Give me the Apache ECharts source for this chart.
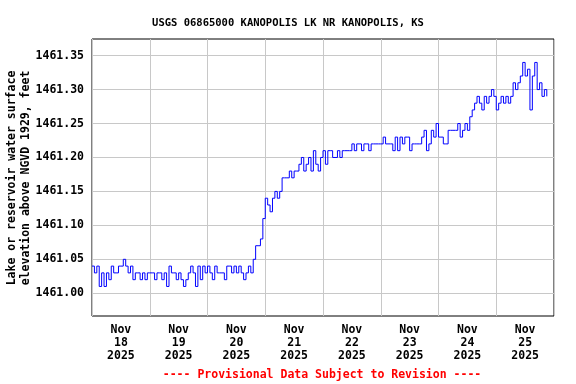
<!DOCTYPE html>
<html>
<head>
<meta charset="utf-8">
<script src="https://cdn.jsdelivr.net/npm/echarts@6/dist/echarts.min.js"></script>
<style>
html,body{margin:0;padding:0;background:#fff;}
#chart{width:576px;height:384px;}
</style>
</head>
<body>
<div id="chart"></div>
<script>
// Day categories (labels centred under each day)
const dayLabels = ['Nov\n18\n2025','Nov\n19\n2025','Nov\n20\n2025','Nov\n21\n2025','Nov\n22\n2025','Nov\n23\n2025','Nov\n24\n2025','Nov\n25\n2025'];
// Y tick values
const yTicks = [1461.00, 1461.05, 1461.10, 1461.15, 1461.20, 1461.25, 1461.30, 1461.35];
// Start of record (UTC) and hourly readings for each day
const startTime = Date.UTC(2025, 10, 18);
const stepMs = 3600000;
const elevNov18 = [1461.04,1461.03,1461.04,1461.01,1461.03,1461.01,1461.03,1461.02,1461.04,1461.03,1461.03,1461.04,1461.04,1461.05,1461.04,1461.03,1461.04,1461.02,1461.03,1461.03,1461.02,1461.03,1461.02,1461.03];
const elevNov19 = [1461.03,1461.03,1461.02,1461.03,1461.03,1461.02,1461.03,1461.01,1461.04,1461.03,1461.03,1461.02,1461.03,1461.02,1461.01,1461.02,1461.03,1461.04,1461.03,1461.01,1461.04,1461.02,1461.04,1461.03];
const elevNov20 = [1461.04,1461.03,1461.02,1461.04,1461.03,1461.03,1461.03,1461.02,1461.04,1461.04,1461.03,1461.04,1461.03,1461.04,1461.03,1461.02,1461.03,1461.04,1461.03,1461.05,1461.07,1461.07,1461.08,1461.11];
const elevNov21 = [1461.14,1461.13,1461.12,1461.14,1461.15,1461.14,1461.15,1461.17,1461.17,1461.17,1461.18,1461.17,1461.18,1461.18,1461.19,1461.20,1461.18,1461.19,1461.20,1461.18,1461.21,1461.19,1461.18,1461.20];
const elevNov22 = [1461.21,1461.19,1461.21,1461.21,1461.20,1461.20,1461.21,1461.20,1461.21,1461.21,1461.21,1461.21,1461.22,1461.21,1461.22,1461.22,1461.21,1461.22,1461.22,1461.21,1461.22,1461.22,1461.22,1461.22];
const elevNov23 = [1461.22,1461.23,1461.22,1461.22,1461.22,1461.21,1461.23,1461.21,1461.23,1461.22,1461.23,1461.23,1461.21,1461.22,1461.22,1461.22,1461.22,1461.23,1461.24,1461.21,1461.22,1461.24,1461.23,1461.25];
const elevNov24 = [1461.23,1461.23,1461.22,1461.22,1461.24,1461.24,1461.24,1461.24,1461.25,1461.23,1461.24,1461.25,1461.24,1461.26,1461.27,1461.28,1461.29,1461.28,1461.27,1461.29,1461.28,1461.29,1461.30,1461.29];
const elevNov25 = [1461.27,1461.28,1461.29,1461.28,1461.29,1461.28,1461.29,1461.31,1461.30,1461.31,1461.32,1461.34,1461.32,1461.33,1461.27,1461.32,1461.34,1461.30,1461.31,1461.29,1461.30,1461.29];

const elev = [].concat(elevNov18, elevNov19, elevNov20, elevNov21, elevNov22, elevNov23, elevNov24, elevNov25);
const seriesData = elev.map((v, i) => [startTime + i * stepMs, v]);

const FONT = 'DejaVu Sans Mono';
const chart = echarts.init(document.getElementById('chart'), null, {renderer: 'canvas'});
chart.setOption({
  animation: false,
  backgroundColor: '#ffffff',
  title: {
    text: 'USGS 06865000 KANOPOLIS LK NR KANOPOLIS, KS',
    left: 'center',
    top: 13,
    textStyle: {fontFamily: FONT, fontWeight: 'bold', fontSize: 10.5, color: '#000'}
  },
  grid: {left: 92, top: 39, width: 462, height: 277, show: true, borderColor: '#000', borderWidth: 1, backgroundColor: 'transparent'},
  xAxis: [{
    type: 'value',
    min: startTime,
    max: startTime + 8 * 86400000,
    interval: 86400000,
    axisLine: {show: false},
    axisTick: {show: false},
    axisLabel: {show: false},
    splitLine: {show: true, lineStyle: {color: '#c8c8c8', width: 1}}
  }, {
    type: 'category',
    data: dayLabels,
    boundaryGap: true,
    position: 'bottom',
    axisLine: {show: false},
    axisTick: {show: false},
    splitLine: {show: false},
    axisLabel: {fontFamily: FONT, fontWeight: 'bold', fontSize: 11.5, color: '#000', lineHeight: 13, margin: 8, interval: 0}
  }],
  yAxis: {
    type: 'value',
    min: 1460.9665,
    max: 1461.3745,
    axisLine: {show: false},
    axisTick: {show: false, customValues: yTicks},
    axisLabel: {customValues: yTicks, fontFamily: FONT, fontWeight: 'bold', fontSize: 11.5, color: '#000', margin: 8,
      formatter: v => v.toFixed(2)},
    splitLine: {show: true, lineStyle: {color: '#c8c8c8', width: 1}}
  },
  graphic: [{
    type: 'text',
    x: 19, y: 178,
    rotation: Math.PI / 2,
    style: {
      text: 'Lake or reservoir water surface\nelevation above NGVD 1929, feet',
      fontFamily: FONT, fontWeight: 'bold', fontSize: 11.5, lineHeight: 14,
      fill: '#000', align: 'center', verticalAlign: 'middle'
    }
  }, {
    type: 'text',
    x: 322, y: 375,
    style: {
      text: '---- Provisional Data Subject to Revision ----',
      fontFamily: FONT, fontWeight: 'bold', fontSize: 11.5,
      fill: '#ff0000', align: 'center', verticalAlign: 'middle'
    }
  }],
  series: [{
    type: 'line',
    xAxisIndex: 0,
    data: seriesData,
    step: 'end',
    showSymbol: false,
    symbol: 'none',
    lineStyle: {color: '#0000ff', width: 1},
    clip: true
  }]
});
</script>
</body>
</html>
